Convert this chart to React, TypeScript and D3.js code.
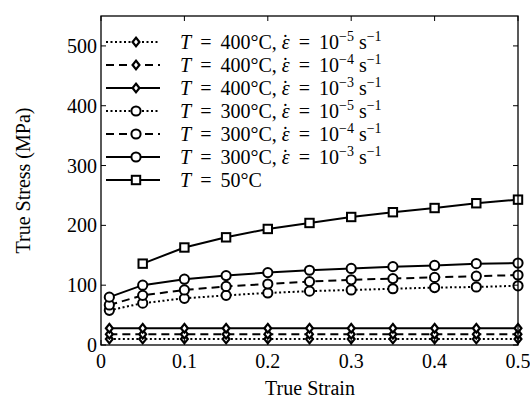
import React from "react";
import * as d3 from "d3";

const strain = [0.01, 0.05, 0.1, 0.15, 0.2, 0.25, 0.3, 0.35, 0.4, 0.45, 0.5];
const strain50 = [0.05, 0.1, 0.15, 0.2, 0.25, 0.3, 0.35, 0.4, 0.45, 0.5];
const s400e5 = [10, 10, 10, 10, 10, 10, 10, 10, 10, 10, 10];
const s400e4 = [18, 18, 18, 18, 18, 18, 18, 18, 18, 18, 18];
const s400e3 = [28, 28, 28, 28, 28, 28, 28, 28, 28, 28, 28];
const s300e5 = [58, 70, 78, 83, 87, 90, 92, 94, 96, 97, 99];
const s300e4 = [67, 83, 92, 98, 102, 106, 109, 111, 113, 115, 117];
const s300e3 = [80, 100, 110, 116, 121, 125, 128, 131, 133, 136, 137];
const s50 = [136, 163, 180, 194, 204, 214, 222, 229, 237, 243];
const xTicks = [0, 0.1, 0.2, 0.3, 0.4, 0.5];
const yTicks = [0, 100, 200, 300, 400, 500];

type Series = { temp: string; exp?: string; xs: number[]; ys: number[]; dash: string; marker: "diamond" | "circle" | "square" };
const series: Series[] = [
  { temp: "400", exp: "−5", xs: strain, ys: s400e5, dash: "2,2.5", marker: "diamond" },
  { temp: "400", exp: "−4", xs: strain, ys: s400e4, dash: "8,5", marker: "diamond" },
  { temp: "400", exp: "−3", xs: strain, ys: s400e3, dash: "", marker: "diamond" },
  { temp: "300", exp: "−5", xs: strain, ys: s300e5, dash: "2,2.5", marker: "circle" },
  { temp: "300", exp: "−4", xs: strain, ys: s300e4, dash: "8,5", marker: "circle" },
  { temp: "300", exp: "−3", xs: strain, ys: s300e3, dash: "", marker: "circle" },
  { temp: "50", xs: strain50, ys: s50, dash: "", marker: "square" },
];

const L = 101, R = 518, T = 16, B = 345;
const x = d3.scaleLinear().domain([0, 0.5]).range([L, R]);
const y = d3.scaleLinear().domain([0, 550]).range([B, T]);
const FONT = "Liberation Serif, DejaVu Serif, serif";
const fs = (size: number) => ({ fontFamily: FONT, fontSize: size });

function Marker({ kind, cx, cy }: { kind: string; cx: number; cy: number }) {
  const common = { fill: "white", stroke: "black", strokeWidth: 2 };
  if (kind === "diamond") {
    const d = d3.symbol().type(d3.symbolDiamond2).size(30)();
    return <path d={d ?? ""} transform={`translate(${cx},${cy}) scale(1,1.25)`} {...common} />;
  }
  if (kind === "circle") return <circle cx={cx} cy={cy} r={4.6} {...common} />;
  return <rect x={cx - 4.2} y={cy - 4.2} width={8.4} height={8.4} {...common} />;
}

export default function App() {
  const line = d3.line<[number, number]>().x((d) => x(d[0])).y((d) => y(d[1]));
  const legendX0 = 106, legendX1 = 160, legendMx = 136;
  const legendY0 = 42, legendDy = 23;
  return (
    <svg width={530} height={403} style={{ position: "absolute", left: 0, top: 0, fontFamily: FONT }}>
      <rect x={0} y={0} width={530} height={403} fill="white" />
      {series.map((s, i) => {
        const pts = s.xs.map((v, j) => [v, s.ys[j]] as [number, number]);
        return (
          <g key={i}>
            <path d={line(pts) ?? ""} fill="none" stroke="black" strokeWidth={2} strokeDasharray={s.dash} />
            {pts.map((p, j) => <Marker key={j} kind={s.marker} cx={x(p[0])} cy={y(p[1])} />)}
          </g>
        );
      })}
      <rect x={L} y={T} width={R - L} height={B - T} fill="none" stroke="black" strokeWidth={1.3} />
      {xTicks.map((t) => (
        <g key={"x" + t}>
          <line x1={x(t)} x2={x(t)} y1={B} y2={B - 5} stroke="black" />
          <line x1={x(t)} x2={x(t)} y1={T} y2={T + 5} stroke="black" />
          <text x={x(t)} y={368} style={fs(20)} textAnchor="middle">{t === 0 ? "0" : String(t)}</text>
        </g>
      ))}
      {yTicks.map((t) => (
        <g key={"y" + t}>
          <line x1={L} x2={L + 5} y1={y(t)} y2={y(t)} stroke="black" />
          <line x1={R} x2={R - 5} y1={y(t)} y2={y(t)} stroke="black" />
          <text x={97} y={y(t) + 7} style={fs(20)} textAnchor="end">{t}</text>
        </g>
      ))}
      <text x={310} y={395} style={fs(20)} textAnchor="middle">True Strain</text>
      <text transform={`translate(30,${(T + B) / 2}) rotate(-90)`} style={fs(20)} textAnchor="middle">True Stress (MPa)</text>
      {series.map((s, i) => {
        const ly = legendY0 + i * legendDy;
        return (
          <g key={"l" + i}>
            <line x1={legendX0} x2={legendX1} y1={ly} y2={ly} stroke="black" strokeWidth={2} strokeDasharray={s.dash} />
            <Marker kind={s.marker} cx={legendMx} cy={ly} />
            <text x={180} y={ly + 7} style={fs(20)}>
              <tspan fontStyle="italic">T</tspan>
              <tspan>{` \u2009=\u2009 ${s.temp}°C`}</tspan>
              {s.exp && (
                <>
                  <tspan>{", "}</tspan>
                  <tspan fontStyle="italic">ε</tspan>
                  <tspan dx={-7.6}>{"˙"}</tspan>
                  <tspan dx={1}>{" \u2009=\u2009 10"}</tspan>
                  <tspan dy={-8} style={fs(14)}>{s.exp}</tspan>
                  <tspan dy={8} style={fs(20)}>{" s"}</tspan>
                  <tspan dy={-8} style={fs(14)}>{"−1"}</tspan>
                </>
              )}
            </text>
          </g>
        );
      })}
    </svg>
  );
}
